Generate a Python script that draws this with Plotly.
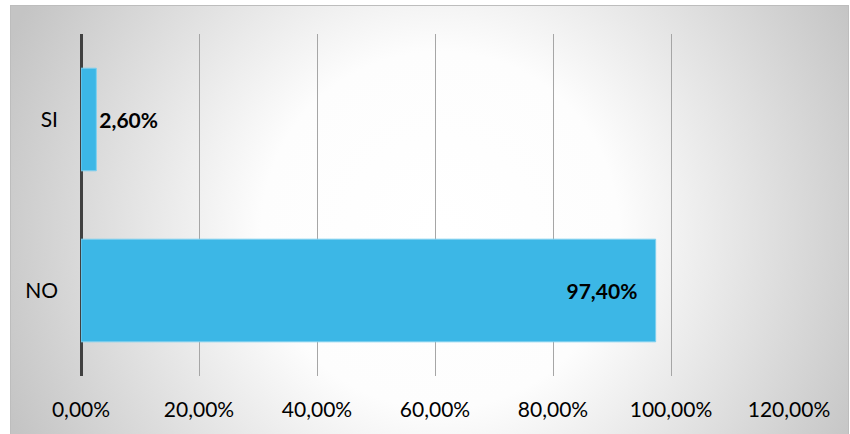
import plotly.graph_objects as go
import base64

categories = ["NO", "SI"]
values = [0.974, 0.026]
text_positions = ["inside", "outside"]
x_ticks = [0, 0.2, 0.4, 0.6, 0.8, 1.0, 1.2]

W, H = 850, 434
L, R, T, B = 81, 61, 34, 58

img_x0, img_y0, img_w, img_h = 10, 5, 839, 440
svg = f'''<svg xmlns="http://www.w3.org/2000/svg" width="{img_w}" height="{img_h}" viewBox="0 0 {img_w} {img_h}">
<defs><radialGradient id="g" gradientUnits="userSpaceOnUse" cx="430" cy="225" r="470">
<stop offset="0" stop-color="#ffffff"/><stop offset="0.38" stop-color="#fdfdfd"/><stop offset="1" stop-color="#c4c4c4"/>
</radialGradient></defs>
<rect x="0" y="0" width="{img_w}" height="{img_h}" fill="url(#g)"/>
<rect x="0.5" y="0.5" width="{img_w - 1}" height="{img_h - 1}" fill="none" stroke="#bdbdbd" stroke-width="1"/>
</svg>'''
src = "data:image/svg+xml;base64," + base64.b64encode(svg.encode()).decode()

pw, ph = W - L - R, H - T - B

fig = go.Figure()
fig.add_trace(go.Bar(
    y=categories, x=values, orientation="h",
    marker=dict(color="#3cb7e6", line=dict(color="#7fd0ef", width=1)),
    texttemplate="%{x:.2%}\u00a0\u00a0\u00a0", textposition=text_positions,
    insidetextanchor="end", cliponaxis=False, hoverinfo="skip",
    textfont=dict(family="Lato", size=21, color="#000000", weight="bold"),
))

fig.update_layout(
    width=W, height=H,
    margin=dict(l=L, r=R, t=T, b=B),
    paper_bgcolor="#ffffff", plot_bgcolor="rgba(0,0,0,0)",
    separators=",.",
    bargap=0.4, showlegend=False,
    font=dict(family="Lato", size=21, color="#000000"),
    images=[dict(source=src, xref="paper", yref="paper",
                 x=(img_x0 - L) / pw, y=(H - B - img_y0) / ph,
                 sizex=img_w / pw, sizey=img_h / ph,
                 xanchor="left", yanchor="top", sizing="stretch", layer="below")],
    xaxis=dict(range=[0, 1.2], tickvals=x_ticks, tickformat=".2%",
               showgrid=True, gridcolor="#a6a6a6", gridwidth=1,
               zeroline=True, zerolinecolor="#404040", zerolinewidth=3,
               showline=False, ticks="", ticklabelstandoff=19,
               tickfont=dict(family="Lato", size=21)),
    yaxis=dict(showgrid=False, zeroline=False, showline=False, ticks="",
               ticklabelstandoff=22, tickfont=dict(family="Lato", size=21)),
)

fig.write_html("out.html", config={"displayModeBar": False},
               post_script="document.body.style.margin='0';")
